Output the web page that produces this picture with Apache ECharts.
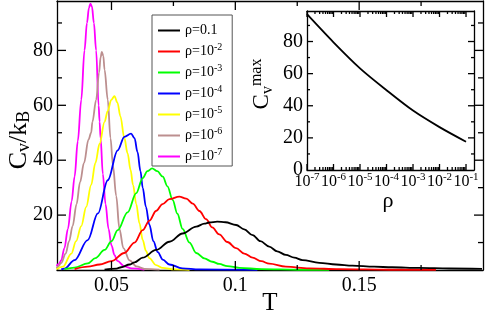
<!DOCTYPE html>
<html><head><meta charset="utf-8">
<script src="https://cdn.jsdelivr.net/npm/echarts@6/dist/echarts.min.js"></script>
<style>html,body{margin:0;padding:0;background:#fff}#c{width:485px;height:313px}</style>
</head><body><div id="c"></div>
<script>
// ---------- data ----------
const seriesNames = ['ρ=0.1','ρ=10^-2','ρ=10^-3','ρ=10^-4','ρ=10^-5','ρ=10^-6','ρ=10^-7'];
const seriesColors = ['#000000','#ff0000','#00ff00','#0000ff','#ffff00','#bc8f8f','#ff00ff'];

const T_01 = [0.0472,0.0520,0.0539,0.0573,0.0593,0.0626,0.0680,0.0734,0.0787,0.0842,0.0875,0.0895,0.0927,0.0960,0.1003,0.1036,0.1070,0.1101,0.1137,0.1169,0.1204,0.1238,0.1271,0.1339,0.1407,0.1473,0.1560,0.1633,0.1742,0.1863,0.1996];
const Cv_01 = [0.1,0.5,1.0,2.0,2.8,4.5,7.3,10.3,13.3,15.8,16.9,17.3,17.6,17.4,16.4,14.8,12.7,10.5,8.5,6.8,5.5,4.5,3.6,2.6,2.0,1.6,1.2,1.0,0.75,0.55,0.4];

const T_1e2 = [0.0351,0.0404,0.0452,0.0499,0.0552,0.0593,0.0626,0.0653,0.0680,0.0706,0.0734,0.0774,0.0802,0.0828,0.0855,0.0882,0.0907,0.0935,0.0968,0.1003,0.1036,0.1070,0.1105,0.1137,0.1204,0.1298,0.1419,0.1621,0.1810];
const Cv_1e2 = [0.3,1.2,2.0,3.2,6.2,10.0,14.5,18.0,21.5,24.0,25.8,26.7,26.0,24.2,21.5,18.5,15.5,13.0,10.2,8.0,6.0,4.5,3.2,2.3,1.2,0.6,0.3,0.1,0.03];

const T_1e3 = [0.0310,0.0351,0.0404,0.0435,0.0472,0.0500,0.0525,0.0565,0.0600,0.0626,0.0645,0.0664,0.0685,0.0707,0.0726,0.0747,0.0766,0.0787,0.0815,0.0842,0.0875,0.0907,0.0935,0.0968,0.1016,0.1105,0.1253,0.1379];
const Cv_1e3 = [0.3,0.9,2.4,4.3,7.3,10.5,14.5,21.0,28.0,33.5,36.0,37.0,36.0,34.0,30.5,25.5,20.5,15.0,10.0,6.2,4.2,3.0,2.2,1.4,0.8,0.3,0.1,0.03];

const T_1e4 = [0.0297,0.0310,0.0351,0.0404,0.0445,0.0485,0.0525,0.0552,0.0579,0.0593,0.0605,0.0617,0.0626,0.0639,0.0653,0.0669,0.0687,0.0707,0.0734,0.0786,0.0855,0.1089];
const Cv_1e4 = [0.2,0.5,3.6,10.9,20.6,32.7,43.6,48.5,49.7,48.0,43.0,36.0,30.0,23.0,16.5,10.5,6.5,3.8,2.0,0.6,0.2,0.02];

const T_1e5 = [0.0278,0.0304,0.0338,0.0357,0.0378,0.0398,0.0418,0.0435,0.0452,0.0472,0.0485,0.0499,0.0512,0.0524,0.0536,0.0552,0.0565,0.0577,0.0587,0.0600,0.0613,0.0626,0.0639,0.0653,0.0680,0.0706,0.0754,0.0815];
const Cv_1e5 = [0.3,1.2,6.0,10.5,16.0,23.0,31.0,39.0,46.0,54.0,58.0,62.0,63.3,61.0,56.0,48.0,42.5,36.5,31.0,24.0,17.0,11.0,7.0,4.3,1.8,0.8,0.2,0.05];

const T_1e6 = [0.0278,0.0283,0.0297,0.0315,0.0329,0.0343,0.0359,0.0373,0.0389,0.0407,0.0418,0.0423,0.0438,0.0450,0.0456,0.0461,0.0467,0.0472,0.0485,0.0496,0.0506,0.0519,0.0532,0.0548,0.0573,0.0601,0.0633,0.0694];
const Cv_1e6 = [0.6,1.2,2.5,6.0,10.5,16.0,24.0,32.0,39.0,47.5,50.0,54.0,62.0,72.0,77.5,79.5,78.0,73.0,62.0,48.0,38.0,27.0,15.0,8.0,3.5,1.3,0.4,0.1];

const T_1e7 = [0.0278,0.0288,0.0297,0.0310,0.0324,0.0339,0.0351,0.0364,0.0378,0.0391,0.0401,0.0409,0.0415,0.0421,0.0429,0.0438,0.0448,0.0452,0.0456,0.0465,0.0476,0.0488,0.0500,0.0512,0.0524,0.0552,0.0581,0.0633];
const Cv_1e7 = [1.5,2.2,3.5,8.0,15.0,25.0,34.0,47.0,62.0,80.0,90.0,95.5,97.0,96.0,90.0,80.0,60.0,54.0,48.0,35.0,24.0,15.0,9.0,5.5,3.3,1.3,0.6,0.15];

const mainT = [T_01, T_1e2, T_1e3, T_1e4, T_1e5, T_1e6, T_1e7];
const mainCv = [Cv_01, Cv_1e2, Cv_1e3, Cv_1e4, Cv_1e5, Cv_1e6, Cv_1e7];

const insetRho = [1e-7, 1e-6, 1e-5, 1e-4, 1e-3, 1e-2, 1e-1];
const insetCvMax = [97.0, 79.5, 63.3, 49.7, 37.0, 26.7, 17.6];

const xTickValues = [0.05, 0.1, 0.15];
const xTickLabels = ['0.05', '0.1', '0.15'];
const xMinorTicks = [0.075, 0.125, 0.175];
const yTickValues = [20, 40, 60, 80];
const yMinorTicks = [10, 30, 50, 70, 90];
const insetXTickValues = [1e-7, 1e-6, 1e-5, 1e-4, 1e-3, 1e-2, 1e-1];
const insetXTickExps = ['-7', '-6', '-5', '-4', '-3', '-2', '-1'];
const insetYTickValues = [0, 20, 40, 60, 80];
const insetYMinorTicks = [10, 30, 50, 70, 90];

// ---------- layout / style ----------
const FONT = 'Liberation Serif';
const X_MIN = 0.028, X_MAX = 0.2, Y_MIN = 0, Y_MAX = 98;
const IX_MIN = 1e-7, IX_MAX = 0.2, IY_MIN = 0, IY_MAX = 99;
const insetXMinor = [];
for (let e = -7; e <= -2; e++) for (let m = 2; m <= 9; m++) insetXMinor.push(m * Math.pow(10, e));

// tick marks: [xValue, yValue, direction(0 up from bottom,1 down from top,2 right from left,3 left from right), length]
function buildTicks(xs, ys, xMin, xMax, yMin, yMax, len) {
  const out = [];
  xs.forEach(v => { out.push([v, yMin, 0, len]); out.push([v, yMax, 1, len]); });
  ys.forEach(v => { out.push([xMin, v, 2, len]); out.push([xMax, v, 3, len]); });
  return out;
}
const mainTicks = buildTicks(xTickValues, yTickValues, X_MIN, X_MAX, Y_MIN, Y_MAX, 9)
  .concat(buildTicks(xMinorTicks, yMinorTicks, X_MIN, X_MAX, Y_MIN, Y_MAX, 5));
const insetTicks = buildTicks(insetXTickValues, insetYTickValues.filter(v => v > 0), IX_MIN, IX_MAX, IY_MIN, IY_MAX, 6)
  .concat(buildTicks(insetXMinor, insetYMinorTicks, IX_MIN, IX_MAX, IY_MIN, IY_MAX, 3));

function renderTick(params, api) {
  const p = api.coord([api.value(0), api.value(1)]);
  const dir = api.value(2), len = api.value(3);
  let x2 = p[0], y2 = p[1];
  if (dir === 0) y2 -= len; else if (dir === 1) y2 += len; else if (dir === 2) x2 += len; else x2 -= len;
  return {type: 'line', shape: {x1: p[0], y1: p[1], x2: x2, y2: y2}, style: {stroke: '#000', lineWidth: 1.3}};
}

const lineCol = '#000';
const frameLine = {show: true, onZero: false, lineStyle: {color: lineCol, width: 1.3}};
function axisBase(extra) {
  return Object.assign({
    splitLine: {show: false},
    axisLine: frameLine,
    axisTick: {show: false},
    axisLabel: {show: false}
  }, extra);
}

const xAxes = [
  axisBase({gridIndex: 0, type: 'value', position: 'bottom', min: X_MIN, max: X_MAX,
    axisLabel: {show: true, customValues: xTickValues, margin: 6, fontFamily: FONT, fontSize: 20, color: '#000',
      formatter: v => { const i = xTickValues.findIndex(t => Math.abs(t - v) < 1e-9); return i >= 0 ? xTickLabels[i] : ''; }}}),
  axisBase({gridIndex: 0, type: 'value', position: 'top', min: X_MIN, max: X_MAX}),
  axisBase({gridIndex: 1, type: 'log', logBase: 10, position: 'bottom', min: IX_MIN, max: IX_MAX,
    axisLabel: {show: true, customValues: insetXTickValues, margin: 2, fontFamily: FONT, fontSize: 16, lineHeight: 20, color: '#000',
      formatter: v => { const i = insetXTickValues.findIndex(t => Math.abs(Math.log10(t) - Math.log10(v)) < 1e-6); return i >= 0 ? '10{sup|' + insetXTickExps[i] + '}' : ''; },
      rich: {sup: {fontFamily: FONT, fontSize: 11, verticalAlign: 'top', color: '#000'}}}}),
  axisBase({gridIndex: 1, type: 'log', logBase: 10, position: 'top', min: IX_MIN, max: IX_MAX})
];

const yAxes = [
  axisBase({gridIndex: 0, type: 'value', position: 'left', min: Y_MIN, max: Y_MAX,
    axisLabel: {show: true, customValues: yTickValues, margin: 4, fontFamily: FONT, fontSize: 20, color: '#000'}}),
  axisBase({gridIndex: 0, type: 'value', position: 'right', min: Y_MIN, max: Y_MAX}),
  axisBase({gridIndex: 1, type: 'value', position: 'left', min: IY_MIN, max: IY_MAX,
    axisLabel: {show: true, customValues: insetYTickValues, margin: 4, fontFamily: FONT, fontSize: 20, color: '#000'}}),
  axisBase({gridIndex: 1, type: 'value', position: 'right', min: IY_MIN, max: IY_MAX})
];

const series = seriesNames.map((name, k) => ({
  name: name, type: 'line', xAxisIndex: 0, yAxisIndex: 0,
  data: mainT[k].map((t, i) => [t, mainCv[k][i]]),
  showSymbol: false, symbol: 'none', smooth: 0.35, smoothMonotone: 'x',
  lineStyle: {color: seriesColors[k], width: 1.8}, itemStyle: {color: seriesColors[k]},
  z: 10 - k
}));
series.push({
  name: 'Cv max', type: 'line', xAxisIndex: 2, yAxisIndex: 2,
  data: insetRho.map((r, i) => [r, insetCvMax[i]]),
  showSymbol: false, symbol: 'none', smooth: 0.3,
  lineStyle: {color: '#000', width: 1.8}, itemStyle: {color: '#000'}
});
series.push({type: 'custom', xAxisIndex: 0, yAxisIndex: 0, data: mainTicks,
  encode: {x: 0, y: 1}, renderItem: renderTick, clip: false, z: 20});
series.push({type: 'custom', xAxisIndex: 2, yAxisIndex: 2, data: insetTicks,
  encode: {x: 0, y: 1}, renderItem: renderTick, clip: false, z: 20});

const option = {
  animation: false,
  backgroundColor: '#fff',
  textStyle: {fontFamily: FONT},
  grid: [
    {left: 57, top: 1, width: 426, height: 269, outerBoundsMode: 'none', containLabel: false},
    {left: 307, top: 11, width: 167, height: 159, show: true, backgroundColor: '#fff', borderWidth: 0, outerBoundsMode: 'none', containLabel: false}
  ],
  legend: {
    show: true, orient: 'vertical', left: 152, top: 15, padding: [6, 10, 0, 6], itemGap: 2,
    itemWidth: 22, itemHeight: 2, icon: 'rect',
    borderColor: '#555', borderWidth: 1, backgroundColor: '#fff',
    data: seriesNames,
    formatter: name => { const p = name.split('^'); return p.length > 1 ? p[0] + '{sup|' + p[1] + '}' : name; },
    textStyle: {fontFamily: FONT, fontSize: 14, color: '#000', lineHeight: 19,
      rich: {sup: {fontFamily: FONT, fontSize: 10, color: '#000', verticalAlign: 'top'}}}
  },
  graphic: [
    {type: 'text', x: 19, y: 140, rotation: Math.PI / 2, silent: true,
      style: {text: '{c|C}{sub|v}{c|/k}{sub|B}', fill: '#000', font: '26px Liberation Serif', align: 'center', verticalAlign: 'middle',
        rich: {c: {fontSize: 26, fontFamily: FONT, lineHeight: 28}, sub: {fontSize: 18, fontFamily: FONT, verticalAlign: 'bottom', lineHeight: 21}}}},
    {type: 'text', x: 262, y: 84, rotation: Math.PI / 2, silent: true,
      style: {text: '{c|C}{sub|v}{sup|max}', fill: '#000', font: '23px Liberation Serif', align: 'center', verticalAlign: 'middle',
        rich: {c: {fontSize: 23, fontFamily: FONT, lineHeight: 27}, sub: {fontSize: 16, fontFamily: FONT, verticalAlign: 'bottom', lineHeight: 19},
               sup: {fontSize: 16, fontFamily: FONT, verticalAlign: 'top', lineHeight: 19}}}},
    {type: 'text', x: 270, y: 303.5, silent: true,
      style: {text: 'T', fill: '#000', font: '25px Liberation Serif', align: 'center', verticalAlign: 'middle'}},
    {type: 'text', x: 388, y: 201, silent: true,
      style: {text: 'ρ', fill: '#000', font: '22px Liberation Serif', align: 'center', verticalAlign: 'middle'}}
  ],
  xAxis: xAxes,
  yAxis: yAxes,
  series: series
};
const chart = echarts.init(document.getElementById('c'), null, {renderer: 'canvas'});
chart.setOption(option);
</script></body></html>
